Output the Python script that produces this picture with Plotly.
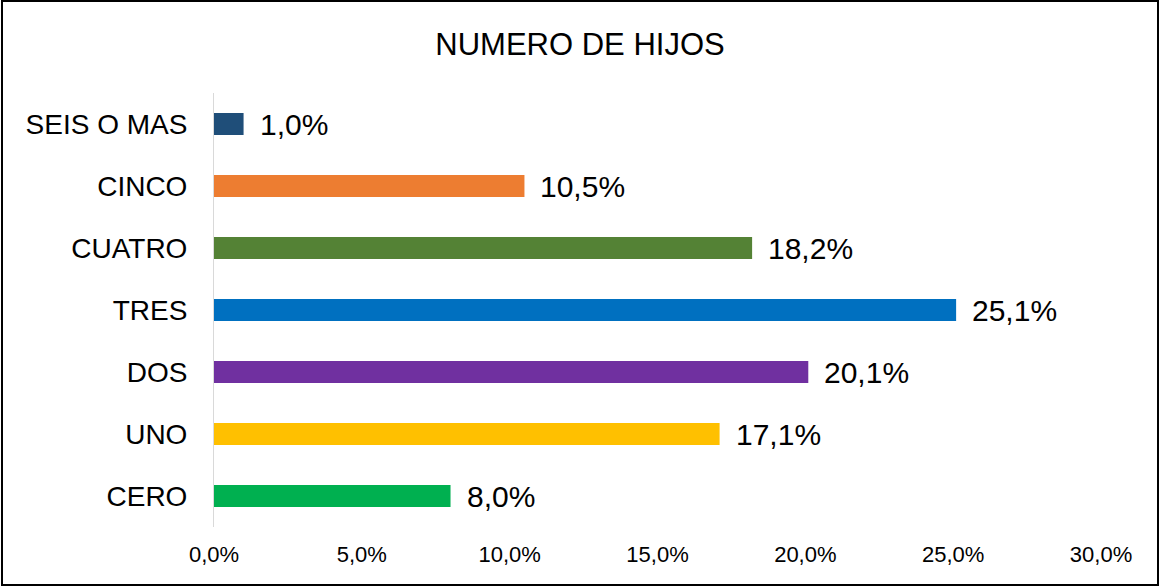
import plotly.graph_objects as go

# Datos (de arriba hacia abajo)
categorias = ['SEIS O MAS', 'CINCO', 'CUATRO', 'TRES', 'DOS', 'UNO', 'CERO']
porcentajes = [0.010, 0.105, 0.182, 0.251, 0.201, 0.171, 0.080]
colores = ['#1F4E79', '#ED7D31', '#548235', '#0070C0', '#7030A0', '#FFC000', '#00B050']

W, H = 1160, 587
ml, mr, mt, mb = 214, 59, 93, 60

fig = go.Figure()
fig.add_trace(go.Bar(
    x=porcentajes,
    y=categorias,
    orientation='h',
    marker=dict(color=colores, line=dict(width=0)),
    hoverinfo='skip',
))

# Etiquetas de datos
for cat, val in zip(categorias, porcentajes):
    fig.add_annotation(
        x=val, y=cat,
        text=f"{val*100:.1f}%".replace('.', ','),
        showarrow=False,
        xanchor='left',
        xshift=14,
        font=dict(size=30, color='#000000', family='Liberation Sans, Arial'),
    )

# Borde exterior del gráfico
pw, ph = W - ml - mr, H - mt - mb
fig.add_shape(
    type='rect', xref='paper', yref='paper',
    x0=(2 - ml) / pw, x1=(1158 - ml) / pw,
    y0=(H - 585 - mb) / ph, y1=(H - 1 - mb) / ph,
    line=dict(color='#000000', width=2),
    fillcolor='rgba(0,0,0,0)',
    layer='above',
)

fig.update_layout(
    width=W, height=H,
    margin=dict(l=ml, r=mr, t=mt, b=mb),
    paper_bgcolor='white',
    plot_bgcolor='white',
    separators=',.',
    bargap=0.645,
    showlegend=False,
    font=dict(family='Liberation Sans, Arial', color='#000000'),
    title=dict(
        text='NUMERO DE HIJOS',
        x=0.5, xanchor='center',
        y=1 - 44 / H, yanchor='middle',
        font=dict(size=31, color='#000000'),
    ),
)

fig.update_xaxes(
    range=[0, 0.30],
    tickvals=[0, 0.05, 0.10, 0.15, 0.20, 0.25, 0.30],
    tickformat='.1%',
    showgrid=False,
    zeroline=False,
    showline=False,
    ticks='outside', ticklen=8, tickcolor='rgba(0,0,0,0)',
    tickfont=dict(size=22),
)
fig.update_yaxes(
    autorange='reversed',
    showgrid=False,
    showline=True, linecolor='#D9D9D9', linewidth=1,
    ticks='outside', ticklen=20, tickcolor='rgba(0,0,0,0)',
    tickfont=dict(size=28),
)

# quitar el margen del body para que la figura quede en (0,0)
fig.write_html("out.html", config={'displayModeBar': False},
               post_script="document.body.style.margin='0';")
